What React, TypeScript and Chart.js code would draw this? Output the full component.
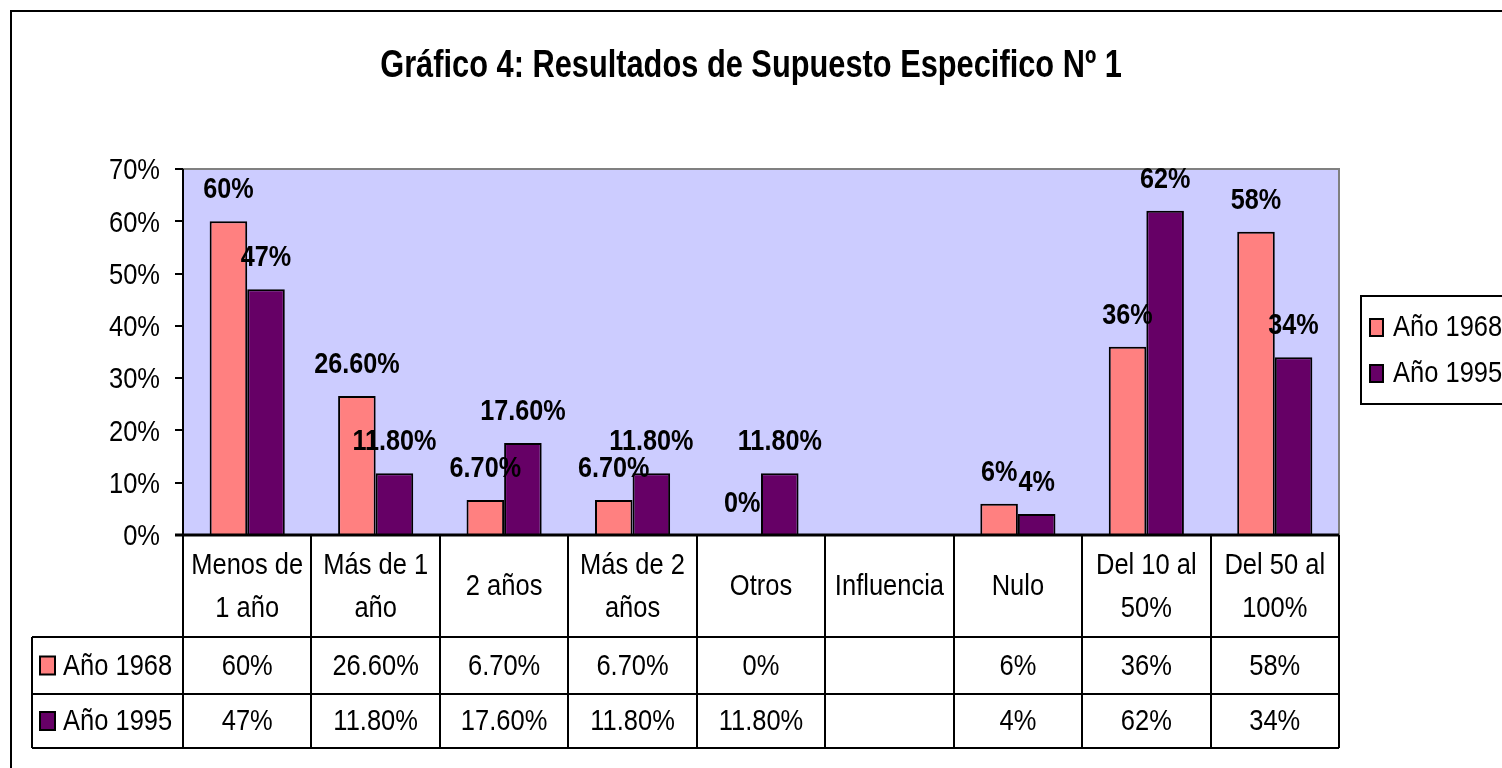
import React, { useEffect, useRef } from "react";
import { Chart, registerables } from "chart.js";

Chart.register(...registerables);

const titleText = "Gráfico 4: Resultados de Supuesto Especifico Nº 1";
const categories: string[][] = [
  ["Menos de", "1 año"],
  ["Más de 1", "año"],
  ["2 años"],
  ["Más de 2", "años"],
  ["Otros"],
  ["Influencia"],
  ["Nulo"],
  ["Del 10 al", "50%"],
  ["Del 50 al", "100%"],
];
const seriesNames = ["Año 1968", "Año 1995"];
const values1968: (number | null)[] = [60, 26.6, 6.7, 6.7, 0, null, 6, 36, 58];
const values1995: (number | null)[] = [47, 11.8, 17.6, 11.8, 11.8, null, 4, 62, 34];
const seriesColors = ["#FF8080", "#660066"];
const yTicks = [0, 10, 20, 30, 40, 50, 60, 70];

const FONT = "'Liberation Sans', Arial, sans-serif";
const SX = 0.85; // horizontal squeeze for regular text
const SXB = 0.84; // squeeze for bold labels
const SXT = 0.81; // squeeze for title

function fmt(v: number | null): string {
  if (v === null || v === undefined) return "";
  return Number.isInteger(v) ? `${v}%` : `${v.toFixed(2)}%`;
}

function txt(ctx: CanvasRenderingContext2D, s: string, x: number, y: number, align: CanvasTextAlign, sx: number) {
  ctx.save();
  ctx.translate(x, y);
  ctx.scale(sx, 1);
  ctx.textAlign = align;
  ctx.fillText(s, 0, 0);
  ctx.restore();
}

const W = 1502;
const H = 768;

export default function App() {
  const ref = useRef<HTMLCanvasElement | null>(null);

  useEffect(() => {
    const canvas = ref.current;
    if (!canvas) return;
    const allSeries = [values1968, values1995];

    const decor = {
      id: "decor",
      beforeDraw(chart: any) {
        const { ctx, chartArea: a } = chart;
        ctx.save();
        ctx.fillStyle = "#FFFFFF";
        ctx.fillRect(0, 0, W, H);
        ctx.fillStyle = "#CCCCFF";
        ctx.fillRect(a.left, a.top, a.right - a.left, a.bottom - a.top);
        ctx.restore();
      },
      afterDatasetsDraw(chart: any) {
        const { ctx, chartArea: a } = chart;
        const xs = chart.scales.x;
        const ys = chart.scales.y;
        ctx.save();
        // plot borders
        ctx.lineWidth = 2;
        ctx.strokeStyle = "#808080";
        ctx.beginPath();
        ctx.moveTo(a.left, a.top);
        ctx.lineTo(a.right, a.top);
        ctx.lineTo(a.right, a.bottom);
        ctx.stroke();

        // y tick labels
        ctx.fillStyle = "#000";
        ctx.font = `30px ${FONT}`;
        ctx.textBaseline = "middle";
        yTicks.forEach((v) => {
          txt(ctx, `${v}%`, a.left - 23, ys.getPixelForValue(v) + 2, "right", SX);
        });

        // data labels
        ctx.font = `bold 30px ${FONT}`;
        ctx.textBaseline = "alphabetic";
        allSeries.forEach((vals, di) => {
          const meta = chart.getDatasetMeta(di);
          meta.data.forEach((bar: any, i: number) => {
            const v = vals[i];
            if (v === null || v === undefined) return;
            txt(ctx, fmt(v), bar.x, bar.y - 23, "center", SXB);
          });
        });

        // table
        const n = categories.length;
        const cw = (a.right - a.left) / n;
        const rowTop = a.bottom;
        const r1 = 637;
        const r2 = 694;
        const r3 = 748;
        const leftX = 32;
        ctx.strokeStyle = "#000";
        ctx.lineWidth = 2;
        ctx.beginPath();
        for (let k = 0; k <= n; k++) {
          const x = Math.round(a.left + k * cw);
          ctx.moveTo(x, rowTop);
          ctx.lineTo(x, r3);
        }
        ctx.moveTo(leftX, r1);
        ctx.lineTo(leftX, r3);
        [r1, r2, r3].forEach((y) => {
          ctx.moveTo(leftX, y);
          ctx.lineTo(a.right, y);
        });
        ctx.stroke();
        // axes lines
        ctx.lineWidth = 3;
        ctx.beginPath();
        ctx.moveTo(a.left - 8, a.bottom);
        ctx.lineTo(a.right, a.bottom);
        ctx.stroke();
        ctx.lineWidth = 2;
        ctx.beginPath();
        ctx.moveTo(a.left, a.top);
        ctx.lineTo(a.left, a.bottom);
        ctx.stroke();

        ctx.font = `30px ${FONT}`;
        ctx.textBaseline = "middle";
        const headerMid = (rowTop + r1) / 2 + 1;
        categories.forEach((lines, i) => {
          const cx = xs.getPixelForValue(i);
          if (lines.length === 1) {
            txt(ctx, lines[0], cx, headerMid, "center", SX);
          } else {
            txt(ctx, lines[0], cx, headerMid - 21, "center", SX);
            txt(ctx, lines[1], cx, headerMid + 22, "center", SX);
          }
          allSeries.forEach((vals, di) => {
            const y = di === 0 ? (r1 + r2) / 2 + 1 : (r2 + r3) / 2 + 1;
            txt(ctx, fmt(vals[i]), cx, y, "center", SX);
          });
        });
        // row headers
        seriesNames.forEach((name, di) => {
          const y = di === 0 ? (r1 + r2) / 2 : (r2 + r3) / 2;
          ctx.fillStyle = seriesColors[di];
          ctx.fillRect(40, y - 9, 15, 18);
          ctx.strokeStyle = "#000";
          ctx.lineWidth = 2;
          ctx.strokeRect(40, y - 9, 15, 18);
          ctx.fillStyle = "#000";
          txt(ctx, name, 63, y + 1, "left", SX);
        });

        // legend
        ctx.lineWidth = 2;
        ctx.strokeStyle = "#000";
        ctx.strokeRect(1361, 296, 200, 108);
        seriesNames.forEach((name, di) => {
          const y = di === 0 ? 327 : 373;
          ctx.fillStyle = seriesColors[di];
          ctx.fillRect(1370, y - 8, 13, 17);
          ctx.strokeRect(1370, y - 8, 13, 17);
          ctx.fillStyle = "#000";
          txt(ctx, name, 1393, y + 1, "left", SX);
        });

        // title
        ctx.font = `bold 38px ${FONT}`;
        ctx.textBaseline = "alphabetic";
        txt(ctx, titleText, W / 2, 77, "center", SXT);

        // outer border
        ctx.lineWidth = 2;
        ctx.strokeRect(11, 11, 1700, 900);
        ctx.restore();
      },
    };

    const chart = new Chart(canvas, {
      type: "bar",
      data: {
        labels: categories.map((c) => c.join(" ")),
        datasets: seriesNames.map((name, di) => ({
          label: name,
          data: allSeries[di] as any,
          backgroundColor: seriesColors[di],
          borderColor: "#000",
          borderWidth: 2,
          categoryPercentage: 0.585,
          barPercentage: 1,
        })),
      },
      options: {
        responsive: false,
        animation: false,
        events: [],
        layout: { padding: { left: 0, top: 169, right: 163, bottom: 0 } },
        plugins: {
          legend: { display: false },
          title: { display: false },
          tooltip: { enabled: false },
        },
        scales: {
          x: {
            type: "category",
            ticks: { display: false },
            grid: { display: false },
            border: { display: false },
            afterFit: (s: any) => {
              s.height = 233;
            },
          },
          y: {
            min: 0,
            max: 70,
            afterBuildTicks: (s: any) => {
              s.ticks = yTicks.map((v) => ({ value: v }));
            },
            ticks: { display: false },
            grid: {
              drawOnChartArea: false,
              drawTicks: true,
              tickLength: 8,
              color: "#000",
              lineWidth: 2,
            },
            border: { display: false },
            afterFit: (s: any) => {
              s.width = 183;
            },
          },
        },
      },
      plugins: [decor],
    });
    return () => chart.destroy();
  }, []);

  return (
    <div style={{ position: "fixed", left: 0, top: 0, width: W, height: H, background: "#fff" }}>
      <canvas ref={ref} width={W} height={H} style={{ display: "block", width: W, height: H }} />
    </div>
  );
}
